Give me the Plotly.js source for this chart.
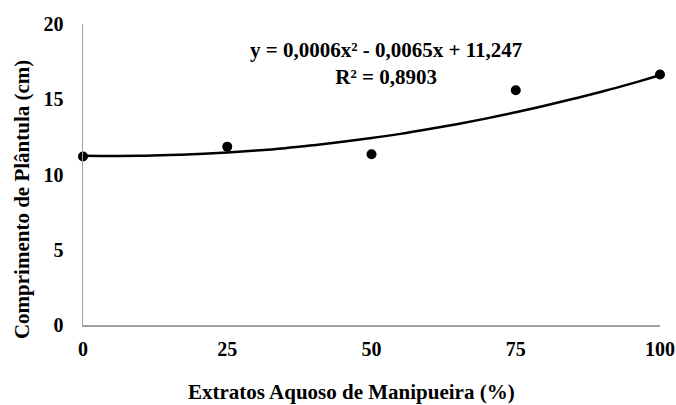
<!DOCTYPE html>
<html>
<head>
<meta charset="utf-8">
<script src="https://cdn.plot.ly/plotly-3.0.1.min.js"></script>
<style>html,body{margin:0;padding:0;background:#fff;}#chart{width:676px;height:405px;}</style>
</head>
<body>
<div id="chart"></div>
<script>
// Observed data
const concentrations = [0, 25, 50, 75, 100];
const seedlingLength = [11.2, 11.85, 11.35, 15.6, 16.65];
// Trend line
const trendX = [0, 5, 10, 15, 20, 25, 30, 35, 40, 45, 50, 55, 60, 65, 70, 75, 80, 85, 90, 95, 100];
const trendY = [11.25, 11.23, 11.24, 11.29, 11.36, 11.46, 11.59, 11.75, 11.95, 12.17, 12.42, 12.70, 13.02, 13.36, 13.73, 14.13, 14.57, 15.03, 15.52, 16.04, 16.6];
const xTicks = [0, 25, 50, 75, 100];
const yTicks = [0, 5, 10, 15, 20];
const xTitle = "Extratos Aquoso de Manipueira (%)";
const yTitle = "Comprimento de Plântula (cm)";
const equationText = "y = 0,0006x² - 0,0065x + 11,247<br>R² = 0,8903";

const font = {family: "Liberation Serif, Times New Roman, serif", color: "#000"};

Plotly.newPlot("chart", [
  {x: trendX, y: trendY, mode: "lines", line: {color: "#000", width: 2.5, shape: "spline"}, hoverinfo: "skip", cliponaxis: false},
  {x: concentrations, y: seedlingLength, mode: "markers", marker: {color: "#000", size: 10}, cliponaxis: false}
], {
  width: 676, height: 405,
  margin: {l: 83, r: 16, t: 24, b: 80},
  paper_bgcolor: "#fff", plot_bgcolor: "#fff",
  showlegend: false,
  font: Object.assign({size: 20}, font),
  xaxis: {
    range: [0, 100], tickvals: xTicks, ticktext: xTicks.map(String),
    showgrid: false, zeroline: false, showline: true, linecolor: "#a0a0a0", linewidth: 1.5,
    ticks: "", ticklabelstandoff: 5,
    tickfont: Object.assign({size: 20, weight: "bold"}, font)
  },
  yaxis: {
    range: [0, 20], tickvals: yTicks, ticktext: yTicks.map(String),
    showgrid: false, zeroline: false, showline: true, linecolor: "#a0a0a0", linewidth: 1.5,
    ticks: "", ticklabelstandoff: 14,
    tickfont: Object.assign({size: 20, weight: "bold"}, font)
  },
  annotations: [{
    xref: "paper", yref: "paper", x: 0.525, y: 0.869, xanchor: "center", yanchor: "middle",
    text: "<b>" + equationText + "</b>", showarrow: false, align: "center",
    font: Object.assign({size: 21}, font)
  }, {
    xref: "paper", yref: "paper", x: 0.466, y: -0.223, xanchor: "center", yanchor: "middle",
    text: "<b>" + xTitle + "</b>", showarrow: false,
    font: Object.assign({size: 21}, font)
  }, {
    xref: "paper", yref: "paper", x: -0.1057, y: 0.415, xanchor: "center", yanchor: "middle",
    text: "<b>" + yTitle + "</b>", showarrow: false, textangle: -90,
    font: Object.assign({size: 21}, font)
  }]
}, {displayModeBar: false, staticPlot: true});
</script>
</body>
</html>
